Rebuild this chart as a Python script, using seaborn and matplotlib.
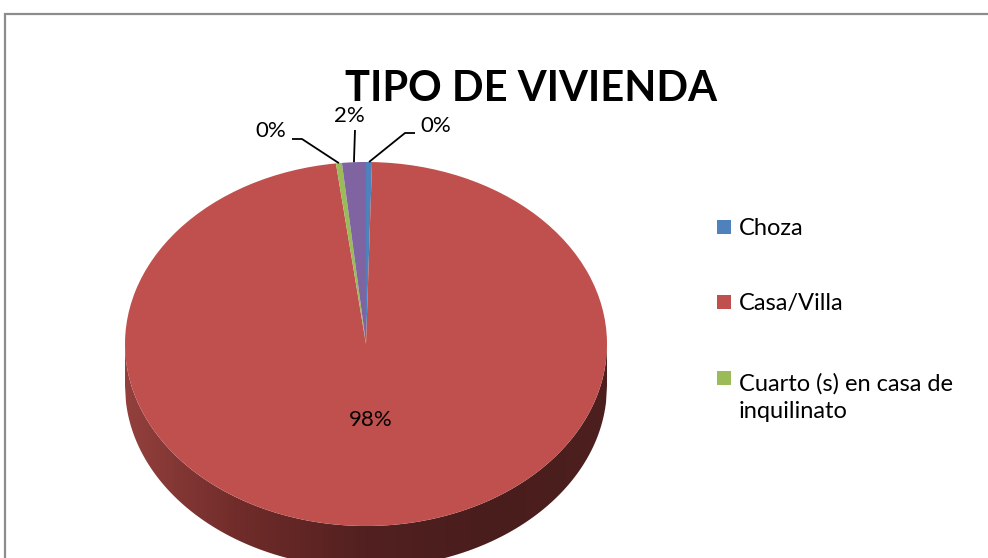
import numpy as np
import matplotlib
matplotlib.use("Agg")
import matplotlib.pyplot as plt
import seaborn as sns
from matplotlib.patches import Rectangle
from matplotlib.colors import LinearSegmentedColormap

# Housing type survey counts
categorias = ["Choza", "Casa/Villa", "Cuarto (s) en casa de\ninquilinato", "Otro"]
viviendas = [1, 245, 1, 4]
colores = ["#4F81BD", "#C0504D", "#9BBB59", "#8064A2"]
titulo = "TIPO DE VIVIENDA"

sns.set_theme(style="white")
plt.rcParams["font.family"] = ["Lato", "DejaVu Sans"]

W, H = 988, 558
fig = plt.figure(figsize=(W / 100, H / 100), dpi=100)
fig.patch.set_facecolor("white")


def fx(px):
    return px / W


def fy(py):
    return 1 - py / H


# chart area frame
fig.add_artist(Rectangle((fx(5), -0.2), 1.5, fy(14) + 0.2, transform=fig.transFigure,
                         fill=False, edgecolor="#8c8c8c", linewidth=1.6))

# pie geometry (pixels, y downward)
cx, cy, a, b = 366, 344, 241, 182
depth = 42 / b
xl = (-1.05, 1.05)
yl = (-1.0 - depth - 0.1, 1.05)
ax = fig.add_axes([fx(cx + xl[0] * a), fy(cy - yl[0] * b),
                   (xl[1] - xl[0]) * a / W, (yl[1] - yl[0]) * b / H])

wedges, texts, pcts = ax.pie(
    viviendas, colors=colores, startangle=90, counterclock=False, radius=1,
    autopct=lambda p: f"{p:.0f}%", pctdistance=0.42,
    wedgeprops=dict(linewidth=0), textprops=dict(fontsize=16, color="black"))
ax.set_aspect("auto")
ax.axis("off")

# side band of the disc with shading from left to right
xs = np.linspace(-1, 1, 500)
top = -np.sqrt(1 - xs ** 2)
band = ax.fill_between(xs, top - depth, top, color="none", linewidth=0)
shade = LinearSegmentedColormap.from_list(
    "side", ["#93403d", "#6e2b29", "#522020", "#4a1d1d", "#4d1f1f"])
img = ax.imshow(np.linspace(0, 1, 256)[None, :], cmap=shade, aspect="auto",
                extent=(-1, 1, -1 - depth, 0), zorder=0.5)
img.set_clip_path(band.get_paths()[0], transform=ax.transData)
ax.set_xlim(*xl)
ax.set_ylim(*yl)


# small-slice labels with leader lines
def to_data(px, py):
    return (px - cx) / a, (cy - py) / b


leaders = {
    2: dict(text=(271, 131), elbow=[(292, 139), (302, 139)]),
    3: dict(text=(349, 116), elbow=[(355, 130)]),
    0: dict(text=(436, 126), elbow=[(415, 133), (405, 133)]),
}
for i, spec in leaders.items():
    w = wedges[i]
    th = np.deg2rad((w.theta1 + w.theta2) / 2)
    tip = (np.cos(th), np.sin(th))
    pcts[i].set_position(to_data(*spec["text"]))
    pcts[i].set_ha("center")
    pcts[i].set_va("center")
    pcts[i].set_clip_on(False)
    pts = [to_data(*p) for p in spec["elbow"]] + [tip]
    ax.plot([p[0] for p in pts], [p[1] for p in pts], color="black", lw=1.3,
            solid_capstyle="butt", zorder=3, clip_on=False)

# title
fig.text(fx(531), fy(101), titulo, ha="center", va="baseline",
         fontsize=30, fontweight="bold", color="black")

# legend (first three categories)
rows = [227, 302, 378]
line_gap = 32
for cat, col, y in zip(categorias[:3], colores[:3], rows):
    fig.add_artist(Rectangle((fx(717), fy(y + 7)), 14 / W, 14 / H,
                             transform=fig.transFigure, facecolor=col, edgecolor="none"))
    n_extra = cat.count("\n")
    fig.text(fx(739), fy(y + 8 + n_extra * line_gap), cat, ha="left", va="baseline",
             fontsize=17, color="black", linespacing=1.35)

fig.savefig("out.png", dpi=100, facecolor="white")
